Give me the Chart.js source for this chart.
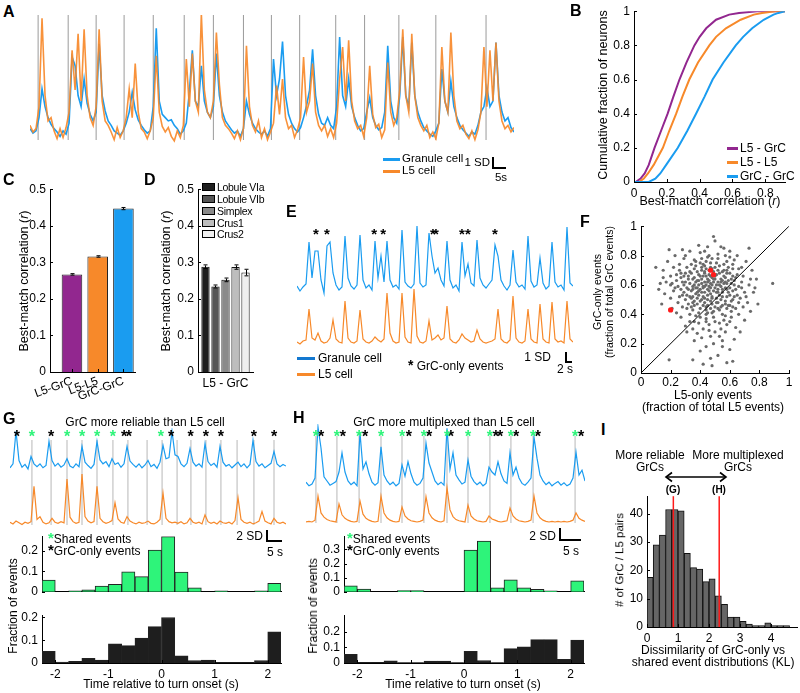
<!DOCTYPE html>
<html><head><meta charset="utf-8">
<script src="https://cdn.jsdelivr.net/npm/chart.js@4.4.1/dist/chart.umd.min.js"></script>
<style>
html,body{margin:0;padding:0;background:#fff;}
#root{position:relative;width:800px;height:693px;overflow:hidden;font-family:"Liberation Sans",Arial,sans-serif;color:#000;}
.t{position:absolute;white-space:nowrap;line-height:1;}
canvas{position:absolute;}
</style></head><body><div id="root"></div>
<script>
// ---------------- DATA ----------------
// A: traces (SD units), sample index = time
const aBlue = [0.5,0.1,0.3,1.5,4.1,2.5,1.5,0.9,0.5,0.2,
-0.2,0.3,0.0,1.0,7.0,6.2,3.5,2.5,5.0,2.8,
1.8,1.2,2.0,8.2,3.5,2.1,1.2,0.8,0.3,0.1,
-0.1,0.3,1.0,2.0,3.8,2.2,1.3,0.8,0.4,0.1,
0.3,2.5,9.6,3.0,1.8,1.5,1.2,1.3,0.8,0.5,
0.0,0.3,1.0,3.8,7.6,3.0,2.5,6.2,3.0,2.0,
1.5,2.5,7.3,3.5,2.0,1.2,0.8,0.4,0.1,0.3,
-0.2,0.5,3.0,1.8,1.0,0.5,0.2,0.0,0.3,-0.2,
0.5,6.8,3.5,5.0,8.4,3.5,1.8,1.0,0.5,0.2,
0.6,1.5,2.6,4.0,7.7,3.5,1.8,1.0,0.8,1.5,
0.8,0.5,2.5,8.8,3.5,2.5,5.0,2.5,1.5,0.8,
0.3,0.5,2.0,3.3,1.5,0.8,0.4,0.6,2.0,8.0,
3.0,1.5,1.0,3.5,8.8,3.5,2.5,8.3,3.5,2.0,
1.2,0.6,0.3,0.0,-0.2,0.3,1.0,5.9,3.0,2.0,
4.8,2.5,1.5,0.8,0.4,0.1,-0.2,0.2,0.0,0.8,
2.0,2.5,4.2,2.5,3.0,8.3,3.5,2.0,1.2,1.5,
0.6,0.2];
const aOrange = [0.8,0.2,0.5,2.5,10.5,3.5,1.2,1.5,0.3,-0.4,
0.5,-0.3,0.6,2.0,7.6,4.0,9.1,3.0,9.5,3.5,
1.5,0.8,2.5,9.5,3.0,1.2,0.8,0.2,-0.5,0.6,
-0.3,0.3,1.5,4.1,1.5,6.4,2.0,0.5,0.2,-0.4,
0.3,1.5,7.1,2.0,0.7,0.2,0.6,-0.2,-0.6,0.3,
-0.3,0.8,6.8,2.5,7.3,3.0,2.0,10.9,4.0,2.0,
1.5,3.0,9.2,4.5,1.5,0.8,0.5,0.1,-0.4,0.3,
-0.5,0.5,8.0,2.5,0.8,0.2,1.2,-0.3,0.5,-0.5,
0.2,1.0,4.4,1.8,5.0,1.5,0.5,0.8,-0.3,0.4,
1.5,7.0,2.0,3.0,6.4,2.0,0.8,0.3,0.8,-0.2,
0.5,-0.3,1.0,5.0,7.9,3.0,8.5,3.0,1.2,0.5,
0.8,-0.2,1.5,6.2,1.8,0.6,0.9,-0.3,0.4,6.5,
2.0,0.8,1.5,4.0,9.5,3.5,2.0,9.1,3.5,1.5,
0.8,0.3,0.8,-0.3,0.2,-0.4,1.0,7.9,3.0,2.0,
9.2,3.5,1.2,0.5,0.8,0.0,-0.4,0.3,-0.5,0.4,
2.0,7.9,2.5,7.6,3.0,8.3,3.0,1.2,0.5,0.8,
0.2,0.6];
const aOnsets = [2.7,12.7,22,31.3,41,51.3,61,71,80.3,89.7,101.7,111.3,122.7,135,151.7];

// B: cumulative distributions
const bFrac      = [0,0,0.02,0.05,0.1,0.2,0.3,0.4,0.5,0.6,0.7,0.8,0.85,0.9,0.95,0.98,0.99,1,1];
const bL5GrC     = [0,0.01,0.04,0.065,0.09,0.125,0.165,0.205,0.24,0.277,0.32,0.368,0.40,0.44,0.50,0.58,0.64,0.75,0.92];
const bL5L5      = [0,0.03,0.06,0.085,0.12,0.176,0.215,0.257,0.295,0.337,0.39,0.459,0.50,0.56,0.65,0.73,0.78,0.86,0.92];
const bGrCGrC    = [0,0.09,0.13,0.16,0.196,0.267,0.325,0.378,0.43,0.479,0.545,0.62,0.665,0.72,0.79,0.85,0.88,0.92,0.92];
const bXTicks = [0,0.2,0.4,0.6,0.8];
const bYTicks = [0,0.2,0.4,0.6,0.8,1];

// C
const cCats = ['L5-GrC','L5-L5','GrC-GrC'];
const cPos = [1,2,3];
const cVals = [0.267,0.316,0.447];
const cErr = [0.002,0.002,0.003];
const cdYTicks = [0,0.1,0.2,0.3,0.4,0.5];

// D
const dCat = ['L5 - GrC'];
const dNames = ['Lobule VIa','Lobule VIb','Simplex','Crus1','Crus2'];
const dVals = [0.288,0.234,0.252,0.287,0.272];
const dErr = [0.005,0.004,0.005,0.006,0.009];

// E traces
const eBlue = [0.2,-0.3,0.1,0.4,4.6,1.0,3.7,3.7,0.8,-0.5,
4.2,4.6,1.5,0.3,-0.2,0.1,5.2,1.0,0.2,-0.1,
0.3,5.3,0.8,0.0,0.3,-0.2,4.7,1.0,3.2,0.6,
4.7,0.8,0.1,0.3,-0.1,5.8,0.6,0.2,0.0,0.4,
6.2,0.5,0.1,0.3,5.5,3.2,1.5,2.0,0.8,0.2,
4.7,0.8,0.0,0.3,-0.3,4.6,1.2,2.4,0.5,0.2,
4.8,1.0,0.3,0.0,0.4,0.8,4.3,3.2,0.8,0.2,
-0.2,0.3,3.8,0.6,0.1,0.3,-0.1,5.2,0.7,0.1,
0.3,3.0,0.5,-0.1,0.2,4.6,0.6,0.1,0.3,-0.2,
6.1,0.5,0.2];
const eOrange = [0.1,-0.1,0.2,0.3,3.4,0.5,0.3,1.0,0.2,0.0,
0.1,0.5,2.3,0.4,0.1,0.0,4.2,0.5,0.1,0.0,
0.2,3.3,0.4,0.1,0.0,0.2,0.6,0.3,0.1,0.4,
5.0,1.0,0.2,0.0,0.1,5.0,0.6,0.1,0.0,5.4,
0.7,0.1,0.0,0.2,2.2,0.3,0.5,0.8,0.3,0.5,
3.7,0.4,0.1,0.0,0.3,0.9,0.5,0.3,0.1,0.2,
1.3,0.4,0.1,0.0,0.1,0.2,0.4,3.4,0.4,0.1,
0.0,0.3,4.7,0.5,0.1,0.0,0.2,3.4,0.4,0.1,
0.0,3.9,0.4,0.1,0.0,4.1,0.4,0.1,0.2,0.0,
4.2,0.4,0.1];
const eGrcOnly = [6.3,10,25.7,28.7,45.3,46.3,55,57,66];

// F scatter
const fX = [0.45,0.38,0.52,0.41,0.33,0.57,0.48,0.29,0.61,0.44,0.36,0.50,0.55,0.27,0.63,0.40,0.46,0.31,0.58,0.35,
0.53,0.42,0.47,0.39,0.60,0.24,0.66,0.44,0.51,0.37,0.56,0.30,0.49,0.43,0.34,0.62,0.28,0.54,0.45,0.40,
0.59,0.32,0.48,0.64,0.38,0.52,0.26,0.46,0.57,0.35,0.42,0.50,0.68,0.22,0.47,0.55,0.33,0.61,0.44,0.39,
0.53,0.29,0.48,0.58,0.36,0.45,0.51,0.41,0.65,0.31,0.54,0.43,0.37,0.60,0.49,0.25,0.56,0.40,0.46,0.52,
0.34,0.62,0.43,0.57,0.38,0.50,0.27,0.47,0.70,0.35,0.44,0.59,0.41,0.53,0.32,0.48,0.63,0.39,0.55,0.45,
0.20,0.72,0.36,0.58,0.42,0.50,0.64,0.47,0.55,0.38,0.44,0.60,0.52,0.58,0.62,0.47,0.42,0.35,0.19,0.48,
0.30,0.66,0.70,0.74,0.67,0.53,0.27,0.21,0.16,0.13,0.10,0.15,0.18,0.23,0.28,0.19,0.26,0.33,0.39,0.50,
0.49,0.56,0.60,0.65,0.73,0.75,0.78,0.76,0.89,0.79,0.71,0.68,0.63,0.57,0.45,0.41,0.29,0.22,0.17,0.12,
0.14,0.20,0.24,0.31,0.36,0.40,0.55,0.63,0.69,0.73,0.67,0.61,0.54,0.46,0.37,0.32,0.28,0.25,0.21,0.34,
0.43,0.51,0.56,0.62,0.66,0.49,0.44,0.39,0.58,0.52,0.47,0.41,0.36,0.30,0.55,0.60,0.64,0.48,0.42,0.38,
0.40,0.43,0.47,0.51,0.35,0.58,0.44,0.37,0.54,0.49,0.33,0.42,0.56,0.46,0.39,0.61,0.31,0.52,0.45,0.48,
0.36,0.55,0.41,0.59,0.34,0.50,0.43,0.57,0.38,0.47,0.29,0.53,0.44,0.62,0.40,0.51,0.35,0.58,0.46,0.42,
0.54,0.37,0.49,0.32,0.60,0.45,0.52,0.39,0.56,0.43,0.28,0.64,0.47,0.50,0.36,0.55,0.41,0.58,0.44,0.33,
0.48,0.53,0.38,0.61,0.46,0.30,0.57,0.42,0.51,0.35,0.49,0.63,0.40,0.54,0.45,0.37,0.59,0.47,0.43,0.52,
0.26,0.68,0.34,0.57,0.44,0.50,0.39,0.62,0.48,0.55,0.31,0.65,0.36,0.52,0.45,0.58,0.40,0.62,0.27,0.69,
0.23,0.71,0.33,0.60,0.46,0.53,0.41,0.57,0.35,0.49,0.24,0.20,0.74,0.77,0.15,0.66,0.30,0.54,0.60,0.43];
const fY = [0.62,0.55,0.48,0.70,0.61,0.58,0.52,0.66,0.64,0.45,0.49,0.72,0.40,0.57,0.52,0.38,0.80,0.72,0.68,0.43,
0.60,0.58,0.66,0.63,0.46,0.63,0.59,0.35,0.55,0.76,0.74,0.50,0.42,0.68,0.56,0.71,0.45,0.64,0.50,0.82,
0.55,0.66,0.60,0.44,0.47,0.78,0.70,0.56,0.49,0.59,0.52,0.64,0.62,0.56,0.72,0.57,0.40,0.38,0.76,0.53,
0.68,0.60,0.47,0.61,0.71,0.41,0.51,0.64,0.67,0.53,0.45,0.59,0.62,0.58,0.69,0.48,0.36,0.44,0.63,0.55,
0.74,0.50,0.48,0.65,0.58,0.45,0.65,0.58,0.55,0.52,0.71,0.72,0.55,0.43,0.47,0.65,0.60,0.67,0.52,0.57,
0.66,0.48,0.35,0.33,0.30,0.28,0.31,0.25,0.22,0.27,0.18,0.16,0.12,0.07,0.08,0.10,0.06,0.09,0.09,0.05,
0.32,0.40,0.36,0.42,0.28,0.34,0.38,0.44,0.54,0.61,0.72,0.70,0.76,0.80,0.84,0.84,0.74,0.83,0.87,0.90,
0.93,0.85,0.83,0.80,0.85,0.70,0.64,0.55,0.61,0.47,0.76,0.72,0.77,0.80,0.86,0.78,0.78,0.72,0.62,0.57,
0.47,0.51,0.41,0.28,0.22,0.15,0.18,0.23,0.45,0.60,0.51,0.42,0.30,0.33,0.39,0.57,0.53,0.59,0.61,0.68,
0.73,0.75,0.70,0.56,0.48,0.38,0.40,0.34,0.44,0.62,0.54,0.61,0.65,0.62,0.63,0.68,0.65,0.78,0.66,0.51,
0.57,0.62,0.49,0.67,0.64,0.52,0.66,0.54,0.59,0.56,0.69,0.46,0.66,0.70,0.60,0.61,0.58,0.44,0.64,0.51,
0.46,0.69,0.72,0.63,0.51,0.58,0.55,0.47,0.69,0.61,0.55,0.73,0.43,0.66,0.49,0.60,0.57,0.57,0.67,0.59,
0.50,0.73,0.62,0.64,0.53,0.46,0.70,0.56,0.61,0.69,0.62,0.57,0.44,0.66,0.60,0.55,0.50,0.70,0.60,0.52,
0.71,0.53,0.63,0.49,0.59,0.68,0.62,0.74,0.48,0.48,0.64,0.63,0.66,0.62,0.53,0.58,0.46,0.75,0.51,0.57,
0.52,0.58,0.45,0.39,0.37,0.35,0.41,0.45,0.41,0.46,0.44,0.53,0.77,0.81,0.79,0.76,0.75,0.74,0.68,0.66,
0.58,0.52,0.35,0.35,0.29,0.25,0.24,0.28,0.30,0.20,0.67,0.60,0.64,0.58,0.65,0.71,0.80,0.86,0.79,0.83];
const fRedX = [0.20,0.47,0.49];
const fRedY = [0.43,0.70,0.67];
const fDiag = [0,1];
const fTicks = [0,0.2,0.4,0.6,0.8,1];

// G traces
const gBlue = [0.2,0.9,6.7,1.5,0.3,0.8,0.0,2.2,0.9,0.4,
0.9,0.2,0.6,4.9,1.5,0.5,1.0,0.3,0.7,1.8,
0.5,0.2,0.9,0.4,4.0,1.2,0.6,0.1,0.8,4.9,
1.6,0.9,1.3,0.4,1.8,0.8,1.1,0.3,0.9,4.0,
1.4,0.8,0.3,0.9,0.2,0.7,1.5,0.4,0.8,0.1,
1.2,4.2,1.8,2.0,6.7,2.5,2.2,0.9,0.4,1.0,
3.6,1.2,0.5,0.9,0.3,4.5,1.3,0.6,1.0,0.3,
4.0,1.2,0.5,0.8,0.2,0.7,1.2,0.4,0.9,0.2,
0.8,5.1,1.3,0.5,0.9,0.2,0.6,1.0,3.1,0.9,
0.4,0.8,0.5];
const gOrange = [0.3,0.0,0.5,0.2,-0.1,0.3,0.1,0.4,6.7,0.8,
1.3,0.3,0.0,0.2,1.0,0.3,0.1,0.4,0.2,8.0,
1.2,0.4,0.1,0.3,8.9,1.3,0.5,0.2,0.4,6.7,
1.0,0.4,0.1,0.3,0.6,3.8,0.9,0.3,0.1,1.3,
0.5,0.2,0.0,0.3,0.1,0.2,0.5,0.1,0.0,0.3,
0.8,5.5,1.0,0.4,0.2,0.3,0.1,0.4,0.0,0.2,
1.0,0.3,0.1,0.3,0.0,1.6,0.4,0.1,0.3,0.0,
0.5,0.2,0.1,0.3,0.0,0.6,4.7,0.8,0.3,0.1,
0.3,0.0,0.2,0.5,2.2,0.5,0.2,0.0,1.0,0.3,
0.1,0.3,0.0];
const gOnsets = [7.3,13.7,19,24,29,34.3,39.3,45.7,50.7,55.7,60.3,65.3,70.3,75.7,81.3,88];
const gSharedEv = [7.3,19,24,29,34.3,50.3];
const gGrcOnlyEv = [2.3,13.7,38,39.6,53.7,60.2,65.3,70.3,81.3,88];

// H traces
const hBlue = [0.8,0.2,0.5,1.5,10.0,6.5,1.7,1.0,0.3,0.6,
0.9,2.5,5.7,2.5,1.0,0.4,0.8,0.2,9.0,3.0,
4.2,2.2,0.8,0.3,0.7,6.7,2.0,1.0,0.4,0.8,
0.2,0.6,3.7,1.8,4.2,2.2,0.8,0.3,0.6,1.5,
7.3,4.0,2.5,1.0,0.4,0.8,0.3,9.8,3.0,5.7,
2.0,1.2,0.5,0.8,4.5,1.8,0.9,0.4,0.8,0.2,
0.6,3.3,2.5,2.0,4.2,2.2,1.0,0.6,5.7,2.0,
3.3,1.5,0.6,0.3,0.8,1.5,8.3,4.8,2.0,1.0,
0.4,0.8,0.2,0.6,0.9,0.3,0.7,0.2,0.5,1.5,
5.8,2.0,2.8,1.0];
const hOrange = [0.0,0.1,0.0,0.3,4.3,1.5,0.8,0.4,0.2,0.1,
0.0,3.0,1.2,0.6,0.3,0.1,0.0,0.1,3.5,1.3,
0.6,0.3,0.1,0.0,0.1,4.3,1.5,0.7,0.3,0.1,
0.0,0.1,2.5,1.0,0.5,0.2,0.1,0.0,0.1,0.3,
4.2,1.5,0.7,0.3,0.1,0.0,0.2,5.7,2.0,0.9,
0.4,0.2,0.1,0.0,2.8,1.0,0.5,0.2,0.1,0.0,
0.1,1.0,0.5,0.3,0.1,0.0,0.1,0.2,2.3,1.0,
0.5,0.2,0.1,0.0,0.1,0.3,4.3,1.5,0.7,0.3,
0.1,0.0,0.1,0.0,0.1,0.0,0.1,0.0,0.1,0.3,
1.5,0.6,0.3,0.1];
const hOnsets = [3.3,10.3,17.7,25,32,39.3,47,54,61.3,68.3,75.7,89.7];
const hSharedEv = [3.3,10.3,17.7,25,32,39.3,47,54,61.3,68.3,75.7,89.7];
const hGrcOnlyEv = [5,12.3,19.7,34.3,41,48.3,63.3,64.7,70,77.3,91.7];

// G / H histograms (bin centres, s)
const histBins = [-2.125,-1.875,-1.625,-1.375,-1.125,-0.875,-0.625,-0.375,-0.125,0.125,0.375,0.625,0.875,1.125,1.375,1.625,1.875,2.125];
const gShared  = [0.057,0,0.005,0.01,0.028,0.036,0.098,0.074,0.204,0.27,0.096,0.02,0,0.005,0,0,0.005,0.042];
const gGrcOnly = [0.051,0.004,0.007,0.02,0.013,0.084,0.076,0.109,0.16,0.2,0.031,0.011,0.013,0.003,0.003,0.003,0.011,0.137];
const hShared  = [0.043,0.019,0,0,0.009,0.009,0,0,0,0.295,0.36,0.028,0.084,0.028,0.017,0.007,0,0.078];
const hGrcOnly = [0.055,0.004,0.004,0.014,0.002,0.002,0.012,0.012,0.002,0.075,0.016,0.002,0.092,0.104,0.15,0.15,0.024,0.147];
const histXTicks = [-2,-1,0,1,2];

// I histogram
const iBins = [0.1,0.3,0.5,0.7,0.9,1.1,1.3,1.5,1.7,1.9,2.1,2.3,2.5,2.7,2.9,3.1,3.3,3.5,3.7,3.9,4.1,4.3,4.5];
const iCounts = [17.5,29,32.5,41.5,41.5,41,26,21,20.5,16,17,11,8,3.5,3.5,2,1,0.5,0.5,1.5,0.5,0.5,0.5];
const iMarks = [0.85,2.33];
const iXTicks = [0,1,2,3,4];
const iYTicks = [0,10,20,30,40];

// ---------------- STYLE ----------------
const BLUE='#1a9cf0', ORANGE='#f7892a', PURPLE='#92278f', GREEN='#2ef47a', DARK='#1e1e1e';
const dColors=['#1e1e1e','#555555','#8a8a8a','#bdbdbd','#efefef'];
const FONT='"Liberation Sans", Arial, sans-serif';
Chart.defaults.font.family=FONT; Chart.defaults.font.size=12; Chart.defaults.color='#000';
Chart.defaults.animation=false; Chart.defaults.responsive=false;
Chart.defaults.plugins.legend.display=false; Chart.defaults.plugins.tooltip.enabled=false;

const root=document.getElementById('root');
function cv(l,t,w,h){const c=document.createElement('canvas');c.width=w;c.height=h;c.style.left=l+'px';c.style.top=t+'px';c.style.width=w+'px';c.style.height=h+'px';root.appendChild(c);return c;}
function T(html,x,y,o={}){const d=document.createElement('div');d.className='t';const a=o.a||'l';const tx=a==='l'?'0%':a==='c'?'-50%':'-100%';d.style.left=x+'px';d.style.top=y+'px';d.style.fontSize=(o.s||12)+'px';if(o.b)d.style.fontWeight='bold';if(o.ls)d.style.letterSpacing=o.ls+'px';d.style.transform=`translate(${tx},-50%)`+(o.rot?` rotate(${o.rot}deg)`:'');d.innerHTML=html;root.appendChild(d);}
function R(x,y,w,h,c,border){const d=document.createElement('div');d.style.cssText=`position:absolute;left:${x}px;top:${y}px;width:${w}px;height:${h}px;background:${c};box-sizing:border-box;`+(border?`border:1px solid ${border};`:'');root.appendChild(d);}
const fmt=v=>String(+(+v).toFixed(3));
const pts=arr=>arr.map((v,i)=>({x:i,y:v}));

// ---------------- PLUGINS ----------------
const inTicks={id:'inTicks',afterDraw(chart,args,o){if(!o||!o.axes)return;const ctx=chart.ctx;ctx.save();ctx.strokeStyle='#000';ctx.lineWidth=1;
 for(const id of o.axes){const s=chart.scales[id];if(!s)continue;s.ticks.forEach((tk,i)=>{const p=Math.round(s.getPixelForTick(i))+0.5;ctx.beginPath();
 if(s.isHorizontal()){ctx.moveTo(p,s.top);ctx.lineTo(p,s.top-(o.len||3));}else{ctx.moveTo(s.right,p);ctx.lineTo(s.right+(o.len||3),p);}ctx.stroke();});}
 ctx.restore();}};
function drawV(chart,o,after){if(!o||!o.sets)return;const ctx=chart.ctx,x=chart.scales.x,a=chart.chartArea;ctx.save();
 for(const st of o.sets){if(!!st.after!==after)continue;ctx.strokeStyle=st.color;ctx.lineWidth=st.w;for(const v of st.values){const p=x.getPixelForValue(v);ctx.beginPath();ctx.moveTo(p,a.top+(st.top||0));ctx.lineTo(p,a.bottom-(st.bot||0));ctx.stroke();}}
 ctx.restore();}
const vlines={id:'vlines',beforeDatasetsDraw(c,a,o){drawV(c,o,false);},afterDatasetsDraw(c,a,o){drawV(c,o,true);}};
const stars={id:'stars',afterDatasetsDraw(chart,args,o){if(!o||!o.sets)return;const ctx=chart.ctx,x=chart.scales.x,a=chart.chartArea;ctx.save();ctx.textAlign='center';ctx.textBaseline='alphabetic';
 for(const st of o.sets){ctx.fillStyle=st.color;ctx.font=`${st.bold?'bold ':''}${st.size}px ${FONT}`;for(const v of st.values){ctx.fillText('*',x.getPixelForValue(v),a.top+st.dy+0.57*st.size);}}
 ctx.restore();}};
const errbars={id:'errbars',afterDatasetsDraw(chart,args,o){if(!o||!o.errs)return;const ctx=chart.ctx,y=chart.scales.y;ctx.save();ctx.strokeStyle='#000';ctx.lineWidth=1;
 o.errs.forEach((arr,di)=>{const meta=chart.getDatasetMeta(di);meta.data.forEach((el,j)=>{const raw=chart.data.datasets[di].data[j];const val=(typeof raw==='object')?raw.y:raw;const e=arr[j];
 const y1=y.getPixelForValue(val-e),y2=y.getPixelForValue(val+e);const xx=Math.round(el.x)+0.5;ctx.beginPath();ctx.moveTo(xx,y1-0.5);ctx.lineTo(xx,y2+0.5);ctx.moveTo(xx-2,y1);ctx.lineTo(xx+2,y1);ctx.moveTo(xx-2,y2);ctx.lineTo(xx+2,y2);ctx.stroke();});});
 ctx.restore();}};
Chart.register(inTicks,vlines,stars,errbars);

function ax(min,max,ticks,extra){
  const o={type:'linear',min,max,offset:false,grid:{display:false,drawTicks:false},border:{display:true,color:'#000',width:1},
    ticks:{padding:4,autoSkip:false,maxRotation:0,callback:v=>fmt(v),font:{size:12}},
    afterBuildTicks:s=>{s.ticks=ticks.map(v=>({value:v}));}};
  return Object.assign(o,extra||{});
}
function axChart(box,area,cfg){
  const c=cv(box.l,box.t,box.w,box.h);
  cfg.options.layout={padding:{top:area.t-box.t,right:box.l+box.w-area.r,left:0,bottom:0}};
  const sc=cfg.options.scales;
  sc.x.afterFit=s=>{s.height=box.t+box.h-area.b;};
  sc.y.afterFit=s=>{s.width=area.l-box.l;};
  return new Chart(c,cfg);
}
function trChart(area,m,cfg){
  const c=cv(area.l-m,area.t-m,area.r-area.l+2*m,area.b-area.t+2*m);
  cfg.options.layout={padding:m};
  return new Chart(c,cfg);
}
const lineDs=(data,color,w,yid)=>({data,borderColor:color,borderWidth:w,pointRadius:0,yAxisID:yid,tension:0});

// ---------------- A ----------------
trChart({l:30,t:15,r:514,b:143},6,{type:'line',data:{datasets:[lineDs(pts(aOrange),'rgba(247,137,42,0.92)',1.6,'y'),lineDs(pts(aBlue),BLUE,1.6,'y')]},
 options:{scales:{x:{type:'linear',display:false,min:0,max:aBlue.length-1},y:{display:false,min:-0.8,max:10.8}},
 plugins:{vlines:{sets:[{values:aOnsets,color:'#9a9a9a',w:1,top:0,bot:3}]}}}});

// ---------------- B ----------------
axChart({l:560,t:0,w:235,h:200},{l:634,t:11,r:785,b:182},{type:'line',data:{datasets:[
  lineDs(bFrac.map((f,i)=>({x:bGrCGrC[i],y:f})),BLUE,2,'y'),
  lineDs(bFrac.map((f,i)=>({x:bL5L5[i],y:f})),ORANGE,2,'y'),
  lineDs(bFrac.map((f,i)=>({x:bL5GrC[i],y:f})),PURPLE,2,'y')]},
 options:{scales:{x:ax(0,0.92,bXTicks),y:ax(0,1,bYTicks)},plugins:{inTicks:{axes:['x','y'],len:3}}}});

// ---------------- C ----------------
axChart({l:0,t:178,w:140,h:222},{l:50,t:187,r:135,b:372},{type:'bar',data:{datasets:[{data:cPos.map((p,i)=>({x:p,y:cVals[i]})),
  backgroundColor:[PURPLE,ORANGE,BLUE],borderColor:'#222',borderWidth:1,barPercentage:0.8,categoryPercentage:1}]},
 options:{scales:{x:ax(0.146,3.45,cPos,{ticks:{padding:2,autoSkip:false,minRotation:20,maxRotation:20,callback:v=>cCats[cPos.indexOf(v)]||'',font:{size:12}}}),
  y:ax(0,0.5,cdYTicks)},plugins:{inTicks:{axes:['x','y'],len:3},errbars:{errs:[cErr]}}}});

// ---------------- D ----------------
axChart({l:150,t:178,w:108,h:215},{l:198,t:187,r:253,b:372},{type:'bar',data:{labels:dCat,datasets:dNames.map((n,i)=>({label:n,data:[dVals[i]],
  backgroundColor:dColors[i],borderColor:'#111',borderWidth:1,barPercentage:0.83,categoryPercentage:0.91}))},
 options:{scales:{x:{type:'category',offset:true,grid:{display:false,drawTicks:false},border:{display:true,color:'#000'},ticks:{padding:4,font:{size:12}}},
  y:ax(0,0.5,cdYTicks)},plugins:{inTicks:{axes:['y'],len:3},errbars:{errs:dErr.map(e=>[e])}}}});

// ---------------- E ----------------
trChart({l:297,t:220,r:573,b:352},8,{type:'line',data:{datasets:[lineDs(pts(eOrange),ORANGE,1.2,'yO'),lineDs(pts(eBlue),BLUE,1.2,'yB')]},
 options:{scales:{x:{type:'linear',display:false,min:0,max:eBlue.length-1},yB:{display:false,min:-6.4,max:6.8},yO:{display:false,min:-0.9,max:12.3}},
 plugins:{stars:{sets:[{values:eGrcOnly,color:'#000',size:15,dy:10,bold:true}]}}}});

// ---------------- F ----------------
axChart({l:590,t:215,w:205,h:177},{l:641,t:225,r:789,b:373},{type:'scatter',data:{datasets:[
  {data:fRedX.map((x,i)=>({x,y:fRedY[i]})),pointRadius:2.6,backgroundColor:'#ff1a1a',borderWidth:0},
  {type:'line',data:fDiag.map(v=>({x:v,y:v})),borderColor:'#000',borderWidth:1,pointRadius:0},
  {data:fX.map((x,i)=>({x,y:fY[i]})),pointRadius:1.6,backgroundColor:'#6a6a6a',borderWidth:0}]},
 options:{scales:{x:ax(0,1,fTicks,{ticks:{padding:2,autoSkip:false,maxRotation:0,callback:v=>fmt(v),font:{size:12}}}),y:ax(0,1,fTicks)},plugins:{inTicks:{axes:['x','y'],len:3}}}});

// ---------------- G / H traces ----------------
trChart({l:10,t:428,r:286,b:528},8,{type:'line',data:{datasets:[lineDs(pts(gOrange),ORANGE,1.2,'yO'),lineDs(pts(gBlue),BLUE,1.2,'yB')]},
 options:{scales:{x:{type:'linear',display:false,min:0,max:gBlue.length-1},yB:{display:false,min:-10.5,max:7.27},yO:{display:false,min:-0.73,max:17.1}},
 plugins:{vlines:{sets:[{values:gOnsets,color:'#cfcfcf',w:1.5,top:12,bot:3}]},
  stars:{sets:[{values:gGrcOnlyEv,color:'#000',size:16,dy:5,bold:true},{values:gSharedEv,color:GREEN,size:16,dy:5,bold:true}]}}}});
trChart({l:306,t:424,r:585,b:526},8,{type:'line',data:{datasets:[lineDs(pts(hOrange),ORANGE,1.2,'yO'),lineDs(pts(hBlue),BLUE,1.2,'yB')]},
 options:{scales:{x:{type:'linear',display:false,min:0,max:hBlue.length-1},yB:{display:false,min:-6.5,max:10.5},yO:{display:false,min:-0.67,max:16.3}},
 plugins:{vlines:{sets:[{values:hOnsets,color:'#cfcfcf',w:1.5,top:12,bot:3}]},
  stars:{sets:[{values:hGrcOnlyEv,color:'#000',size:16,dy:9,bold:true},{values:hSharedEv,color:GREEN,size:16,dy:9,bold:true}]}}}});

// ---------------- G / H histograms ----------------
function hist(box,area,vals,color,ymax,yt,showX){
  const xs=ax(-2.25,2.25,showX?histXTicks:[],showX?{}:{ticks:{display:false}});
  return axChart(box,area,{type:'bar',data:{datasets:[{data:histBins.map((b,i)=>({x:b,y:vals[i]})),backgroundColor:color,borderColor:'#222',borderWidth:1,barPercentage:1,categoryPercentage:1}]},
   options:{scales:{x:xs,y:ax(0,ymax,yt)},plugins:{inTicks:{axes:showX?['x','y']:['y'],len:3}}}});
}
hist({l:0,t:525,w:290,h:78},{l:42,t:531,r:281,b:602},gShared,GREEN,0.272,[0,0.1,0.2],false);
hist({l:0,t:604,w:290,h:78},{l:42,t:610,r:281,b:663},gGrcOnly,DARK,0.21,[0,0.1,0.2],true);
hist({l:300,t:525,w:290,h:78},{l:344,t:531,r:584,b:602},hShared,GREEN,0.394,[0,0.1,0.2,0.3],false);
hist({l:300,t:604,w:290,h:78},{l:344,t:611,r:584,b:663},hGrcOnly,DARK,0.306,[0,0.1,0.2],true);

// ---------------- I ----------------
axChart({l:600,t:485,w:200,h:160},{l:647,t:493,r:797,b:627},{type:'bar',data:{datasets:[{data:iBins.map((b,i)=>({x:b,y:iCounts[i]})),
  backgroundColor:'#666666',borderColor:'#111',borderWidth:1,barPercentage:1,categoryPercentage:1}]},
 options:{scales:{x:ax(0,4.84,iXTicks),y:ax(0,46.2,iYTicks)},
 plugins:{inTicks:{axes:['x','y'],len:3},vlines:{sets:[{values:iMarks,color:'#ff1a1a',w:1.5,top:0,bot:0,after:true}]}}}});

// ---------------- TEXT / ANNOTATIONS ----------------
[['A',3,12],['B',570,11],['C',3,180],['D',144,180],['E',286,212],['F',580,222],['G',3,419],['H',293,418],['I',601,430]].forEach(([s,x,y])=>T(s,x,y,{b:1,s:16}));
// A
R(383,158,17,3,BLUE);T('Granule cell',402,159,{s:11.5});R(383,170,17,3,ORANGE);T('L5 cell',402,171,{s:11.5});
T('1 SD',490,163,{a:'r',s:11.5});R(492,157,2,12,'#000');R(492,167,14,2,'#000');T('5s',501,178,{a:'c',s:11.5});
// B
T('Cumulative fraction of neurons',603,95,{a:'c',rot:-90,s:12.5});T('Best-match correlation (<i>r</i>)',710,201,{a:'c',s:12.5});
R(727,147,11,3,PURPLE);T('L5 - GrC',740,148);R(727,161,11,3,ORANGE);T('L5 - L5',740,162);R(727,175,11,3,BLUE);T('GrC - GrC',740,176);
// C, D
T('Best-match correlation (<i>r</i>)',24,281,{a:'c',rot:-90,s:12.5});
T('Best-match correlation (<i>r</i>)',166,281,{a:'c',rot:-90,s:12.5});
[187,199,211,223,234].forEach((y,i)=>{R(202,y-4,13,8,dColors[i],'#000');T(dNames[i],217,y,{s:10.5,ls:-0.3});});
// E
R(297,357,18,3,'#1378d0');T('Granule cell',318,358);R(297,373,18,3,ORANGE);T('L5 cell',318,374);
T('<b style="font-size:14px">*</b> GrC-only events',408,365);
T('1 SD',551,357,{a:'r'});R(565,352,2,11,'#000');R(565,361,7,2,'#000');T('2 s',565,369,{a:'c'});
// F
T('GrC-only events',597,292,{a:'c',rot:-90,s:10.5});T('(fraction of total GrC events)',609,292,{a:'c',rot:-90,s:10.5});
T('L5-only events',713,395,{a:'c'});T('(fraction of total L5 events)',713,407,{a:'c'});
// G
T('GrC more reliable than L5 cell',145,422,{a:'c'});
T(`<b style="color:${GREEN};font-size:15px">*</b>Shared events`,48,537);T('<b style="font-size:15px">*</b>GrC-only events',48,549);
T('2 SD',263,536,{a:'r'});R(266,530,2,12,'#000');R(266,540,16,2,'#000');T('5 s',275,552,{a:'c'});
T('Fraction of events',13,606,{a:'c',rot:-90});T('Time relative to turn onset (s)',161,684,{a:'c'});
// H
T('GrC more multiplexed than L5 cell',444,422,{a:'c'});
T(`<b style="color:${GREEN};font-size:15px">*</b>Shared events`,347,537);T('<b style="font-size:15px">*</b>GrC-only events',347,549);
T('2 SD',556,536,{a:'r'});R(559,528,2,13,'#000');R(559,539,22,2,'#000');T('5 s',571,551,{a:'c'});
T('Fraction of events',313,606,{a:'c',rot:-90});T('Time relative to turn onset (s)',463,684,{a:'c'});
// I
T('More reliable',650,455,{a:'c'});T('GrCs',650,467,{a:'c'});T('More multiplexed',738,455,{a:'c'});T('GrCs',738,467,{a:'c'});
(function(){const s=document.createElementNS('http://www.w3.org/2000/svg','svg');s.setAttribute('width','66');s.setAttribute('height','12');s.style.cssText='position:absolute;left:663px;top:471px;';
 s.innerHTML='<line x1="3" y1="6" x2="63" y2="6" stroke="#000" stroke-width="1.6"/><polyline points="9,1.5 3,6 9,10.5" fill="none" stroke="#000" stroke-width="1.6"/><polyline points="57,1.5 63,6 57,10.5" fill="none" stroke="#000" stroke-width="1.6"/>';root.appendChild(s);})();
T('(G)',673,490,{a:'c',s:10,b:1});T('(H)',719,490,{a:'c',s:10,b:1});
T('# of GrC / L5 pairs',620,560,{a:'c',rot:-90,s:11.5});
T('Dissimilarity of GrC-only vs',713,650,{a:'c'});T('shared event distributions (KL)',713,662,{a:'c'});
</script></body></html>
